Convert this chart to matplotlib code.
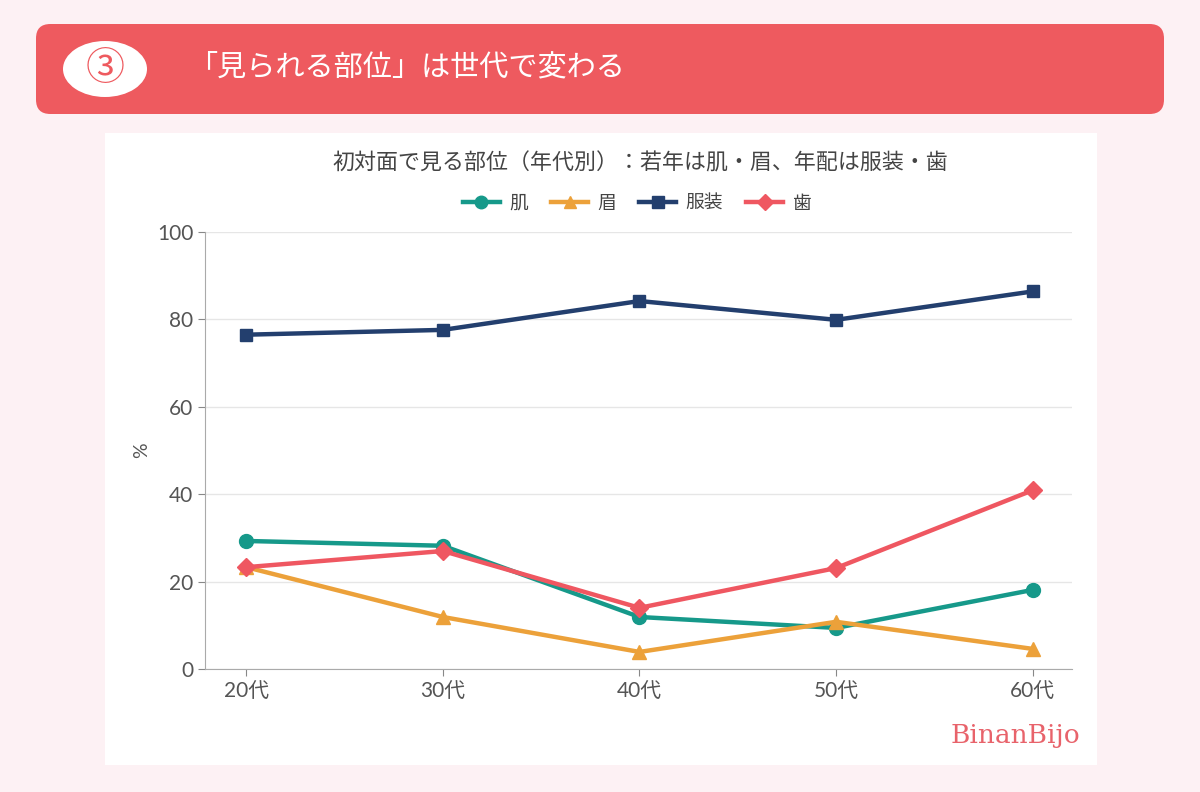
import matplotlib.pyplot as plt
from matplotlib.patches import FancyBboxPatch, Ellipse, Rectangle

plt.rcParams['font.family'] = ['Noto Sans CJK JP', 'DejaVu Sans']

ages = ['20代', '30代', '40代', '50代', '60代']
skin = [29.3, 28.2, 11.9, 9.4, 18.1]      # 肌
brow = [23.3, 11.9, 3.9, 10.8, 4.6]       # 眉
clothes = [76.5, 77.6, 84.2, 79.9, 86.4]  # 服装
teeth = [23.3, 27.0, 14.0, 23.1, 40.9]    # 歯

fig = plt.figure(figsize=(12, 7.92), dpi=100)
fig.patch.set_facecolor('#fdf1f4')

# header bar
W, H = 1200, 792
def fx(px): return px / W
def fy(py): return 1 - py / H

hdr = FancyBboxPatch((fx(36), fy(114)), fx(1128), 90 / H,
                     boxstyle='round,pad=0,rounding_size=0.012',
                     transform=fig.transFigure, facecolor='#ee5a5f',
                     edgecolor='none', mutation_aspect=W / H)
fig.patches.append(hdr)
fig.patches.append(Ellipse((fx(105), fy(69)), 84 / W, 56 / H,
                           transform=fig.transFigure, facecolor='white', edgecolor='none'))
fig.text(fx(105), fy(69), '③', ha='center', va='center', fontsize=28,
         color='#ee5a5f', family=['Noto Sans CJK JP', 'DejaVu Sans'])
fig.text(fx(188), fy(67), '「見られる部位」は世代で変わる', ha='left', va='center',
         fontsize=21, color='white')

# white panel
fig.patches.append(Rectangle((fx(105), fy(765)), 992 / W, 632 / H,
                             transform=fig.transFigure, facecolor='white', edgecolor='none'))

ax = fig.add_axes([fx(205), fy(669), 867 / W, 437 / H])
ax.set_zorder(3)
ax.set_facecolor('white')
x = range(len(ages))
ax.plot(x, skin, color='#16998a', lw=3.2, marker='o', ms=10, label='肌')
ax.plot(x, brow, color='#eca13a', lw=3.2, marker='^', ms=10, label='眉')
ax.plot(x, clothes, color='#233f6e', lw=3.2, marker='s', ms=9, label='服装')
ax.plot(x, teeth, color='#ef5761', lw=3.2, marker='D', ms=9, label='歯')

ax.set_xlim(-0.21, 4.2)
ax.set_ylim(0, 100)
ax.set_yticks([0, 20, 40, 60, 80, 100])
ax.set_xticks(list(x))
ax.set_xticklabels(ages)
ax.tick_params(labelsize=15, colors='#555555', length=5, color='#888888')
for lab in ax.get_xticklabels() + ax.get_yticklabels():
    lab.set_family(['Lato', 'Noto Sans CJK JP'])
ax.grid(axis='y', color='#e6e6e6', lw=1)
ax.set_axisbelow(True)
for s in ['top', 'right']:
    ax.spines[s].set_visible(False)
for s in ['left', 'bottom']:
    ax.spines[s].set_color('#aaaaaa')
ax.set_ylabel('%', fontsize=14, color='#555555', labelpad=5, family=['Lato'])

fig.text(fx(640), fy(163), '初対面で見る部位（年代別）：若年は肌・眉、年配は服装・歯',
         ha='center', va='center', fontsize=15.8, color='#444444')
ax.legend(loc='center', bbox_to_anchor=(fx(637), fy(203)), bbox_transform=fig.transFigure,
          ncol=4, frameon=False, fontsize=13.5, handlelength=2.0, handletextpad=0.5,
          columnspacing=1.2, markerscale=0.9, labelcolor='#444444')

fig.text(fx(1080), fy(735), 'BinanBijo', ha='right', va='center', fontsize=19,
         color='#e8636b', family=['DejaVu Serif'])

fig.savefig('out.png', dpi=100, facecolor=fig.get_facecolor())
